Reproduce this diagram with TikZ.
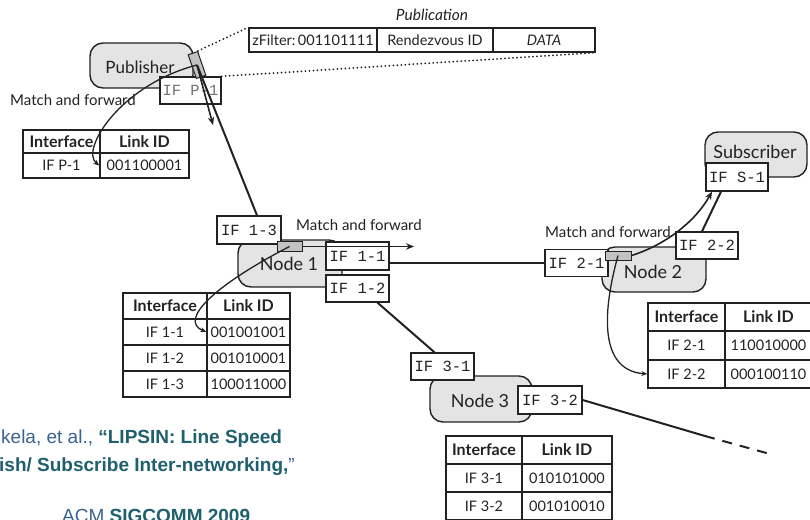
\documentclass[tikz,border=0pt]{standalone}
\usepackage{fontspec}
\setmainfont{Lato}
\newfontfamily\monofont{Liberation Mono}
\newfontfamily\citefont{Liberation Sans}
\usetikzlibrary{arrows.meta,calc}

\definecolor{boxgray}{HTML}{E4E4E4}
\definecolor{pktgray}{HTML}{C2C2C2}
\definecolor{ink}{HTML}{222222}
\definecolor{citeblue}{HTML}{3A6390}
\definecolor{citeteal}{HTML}{1F5F6E}

% table cell: style, name, x, y, width, height, text
\newcommand\tcell[7]{\node[#1,minimum width=#5pt,minimum height=#6pt] (#2) at (#3,#4) {#7};}

\begin{document}
\begin{tikzpicture}[x=1pt,y=-1pt,
  netnode/.style={draw=ink,line width=1.4pt,fill=boxgray,rounded corners=13pt,inner sep=0pt},
  nodelabel/.style={font=\fontsize{18}{20}\selectfont,text=ink,inner sep=0pt},
  ifbox/.style={draw=ink,line width=1.3pt,fill=white,inner sep=0pt,text=ink,font=\monofont\fontsize{15.5}{16}\selectfont},
  packet/.style={draw=ink,line width=1pt,fill=pktgray,inner sep=0pt},
  link/.style={ink,line width=2pt},
  flow/.style={ink,line width=1.6pt,-{Stealth[length=8pt,width=6.5pt]}},
  thinflow/.style={ink,line width=1.3pt,-{Stealth[length=6pt,width=5pt]}},
  dots/.style={ink,line width=2pt,line cap=round,dash pattern=on 0pt off 4pt},
  note/.style={font=\fontsize{15}{18}\selectfont,text=ink,anchor=west,inner sep=0pt},
  cell/.style={draw=ink,line width=1.5pt,inner sep=0pt,text=ink,font=\fontsize{14.5}{16}\selectfont},
  headcell/.style={cell,font=\bfseries\fontsize{16}{18}\selectfont},
  pubcell/.style={draw=ink,line width=1.3pt,inner sep=0pt,minimum height=24pt,text=ink,font=\fontsize{14.5}{16}\selectfont},
  cite/.style={font=\citefont\fontsize{19}{22}\selectfont,anchor=base west,inner sep=0pt,text=citeblue}
]
\useasboundingbox (0,0) rectangle (810,519);

% ---- publication header ----
\node[font=\itshape\fontsize{15.5}{18}\selectfont,text=ink] (pubtitle) at (432,15) {Publication};
\node[pubcell,minimum width=128pt] (zf) at (313,40) {zFilter:\,001101111};
\node[pubcell,minimum width=116pt] (rv) at (435,40) {Rendezvous ID};
\node[pubcell,minimum width=102pt] (dt) at (544,40) {\itshape DATA};

% ---- publisher ----
\node[netnode,minimum width=103pt,minimum height=45pt] (pub) at (141.5,65.5) {};
\node[nodelabel,font=\fontsize{17}{20}\selectfont] (publbl) at (140,67) {Publisher};
\node[ifbox,minimum width=61pt,minimum height=27pt,text=black!55] (ifP) at (190.5,90.5) {IF P-1};
\node[packet,minimum width=25pt,minimum height=10pt,rotate=-71] (pktP) at (197,65) {};

% ---- node 1 ----
\node[netnode,minimum width=104pt,minimum height=47pt] (n1) at (290,263.5) {};
\node[nodelabel] (n1lbl) at (289,264) {Node 1};
\node[ifbox,minimum width=64pt,minimum height=28pt] (if13) at (249,230) {IF 1-3};
\node[ifbox,minimum width=63pt,minimum height=28pt] (if11) at (357.5,256) {IF 1-1};
\node[ifbox,minimum width=63pt,minimum height=27pt] (if12) at (357.5,288.5) {IF 1-2};
\node[packet,minimum width=25pt,minimum height=10pt] (pkt1) at (289.5,246.5) {};

% ---- node 2 ----
\node[netnode,minimum width=104pt,minimum height=45pt] (n2) at (654,269.5) {};
\node[nodelabel] (n2lbl) at (653,272) {Node 2};
\node[ifbox,minimum width=63pt,minimum height=27pt] (if21) at (576.5,263) {IF 2-1};
\node[ifbox,minimum width=62pt,minimum height=27pt] (if22) at (707,245.5) {IF 2-2};
\node[packet,minimum width=26pt,minimum height=9pt] (pkt2) at (618,255.5) {};

% ---- subscriber ----
\node[netnode,minimum width=102pt,minimum height=45pt] (sub) at (756,154.5) {};
\node[nodelabel] (sublbl) at (755,152) {Subscriber};
\node[ifbox,minimum width=62pt,minimum height=28pt] (ifS) at (737,177) {IF S-1};

% ---- node 3 ----
\node[netnode,minimum width=102pt,minimum height=46pt] (n3) at (481,399) {};
\node[nodelabel] (n3lbl) at (480,401) {Node 3};
\node[ifbox,minimum width=63pt,minimum height=27pt] (if31) at (442.5,366.5) {IF 3-1};
\node[ifbox,minimum width=64pt,minimum height=28pt] (if32) at (550,400) {IF 3-2};

% ---- forwarding tables ----
\tcell{headcell}{tPh1}{61.5}{141.5}{77}{23}{Interface}
\tcell{headcell}{tPh2}{144.5}{141.5}{89}{23}{Link ID}
\tcell{cell}{tPa1}{61.5}{165.5}{77}{25}{IF P-1}
\tcell{cell}{tPb1}{144.5}{165.5}{89}{25}{001100001}

\tcell{headcell}{t1h1}{165}{306}{84}{26}{Interface}
\tcell{headcell}{t1h2}{248.5}{306}{83}{26}{Link ID}
\tcell{cell}{t1a1}{165}{332}{84}{26}{IF 1-1}
\tcell{cell}{t1b1}{248.5}{332}{83}{26}{001001001}
\tcell{cell}{t1a2}{165}{358}{84}{26}{IF 1-2}
\tcell{cell}{t1b2}{248.5}{358}{83}{26}{001010001}
\tcell{cell}{t1a3}{165}{384}{84}{26}{IF 1-3}
\tcell{cell}{t1b3}{248.5}{384}{83}{26}{100011000}

\tcell{headcell}{t2h1}{686.5}{317}{77}{28}{Interface}
\tcell{headcell}{t2h2}{768.5}{317}{87}{28}{Link ID}
\tcell{cell}{t2a1}{686.5}{345.5}{77}{29}{IF 2-1}
\tcell{cell}{t2b1}{768.5}{345.5}{87}{29}{110010000}
\tcell{cell}{t2a2}{686.5}{374}{77}{28}{IF 2-2}
\tcell{cell}{t2b2}{768.5}{374}{87}{28}{000100110}

\tcell{headcell}{t3h1}{484}{450}{76}{28}{Interface}
\tcell{headcell}{t3h2}{567}{450}{90}{28}{Link ID}
\tcell{cell}{t3a1}{484}{478}{76}{28}{IF 3-1}
\tcell{cell}{t3b1}{567}{478}{90}{28}{010101000}
\tcell{cell}{t3a2}{484}{506}{76}{28}{IF 3-2}
\tcell{cell}{t3b2}{567}{506}{90}{28}{001010010}

% ---- free ends ----
\coordinate (fwdP) at (213,125);
\coordinate (fwd1) at (414,0);
\coordinate (far3) at (705,436);
\coordinate (end3) at (770,454);

% ---- links and forwarding paths ----
\draw[dots] (pktP.north west) -- (zf.north west);
\draw[dots] (ifP.north east) -- (dt.south east);

\draw[link] (pktP.center) -- ($(if13.north)+(8,0)$);
\draw[flow] (pktP.center) -- (fwdP);
\draw[thinflow] (pktP.center) .. controls (120,85) and (80,150) .. (tPb1.west);

\draw[flow] (pkt1.east) -- (pkt1.east -| fwd1);
\draw[thinflow] (pkt1.center) .. controls (215,285) and (178,320) .. (t1b1.west);
\draw[link] (if11.east |- if21.west) -- (if21.west);
\draw[link] ($(if12.south)+(20,0)$) -- ($(if31.north)+(-8,0)$);

\draw[flow] (pkt2.east) .. controls (665,245) and (695,222) .. ($(ifS.south)+(-25,0)$);
\draw[link] ($(if22.north)+(-5,0)$) -- ($(ifS.south)+(-16,0)$);
\draw[thinflow] (pkt2.center) .. controls (603,310) and (598,370) .. (t2a2.west);

\draw[link] (if32.east) -- (far3);
\draw[link,dash pattern=on 10pt off 8pt] (far3) -- (end3);

% ---- annotations ----
\node[note] (mfP) at (10,100) {Match and forward};
\node[note] (mf1) at (296,225) {Match and forward};
\node[note] (mf2) at (545,232) {Match and forward};

% ---- reference ----
\node[cite] (cite1) at (1,443) {kela, et al., \textcolor{citeteal}{\bfseries “LIPSIN: Line Speed}};
\node[cite] (cite2) at (-1,471) {\textcolor{citeteal}{\bfseries ish/ Subscribe Inter-networking,}”};
\node[cite] (cite3) at (62,522) {ACM \textcolor{citeteal}{\bfseries SIGCOMM 2009}};
\end{tikzpicture}
\end{document}
